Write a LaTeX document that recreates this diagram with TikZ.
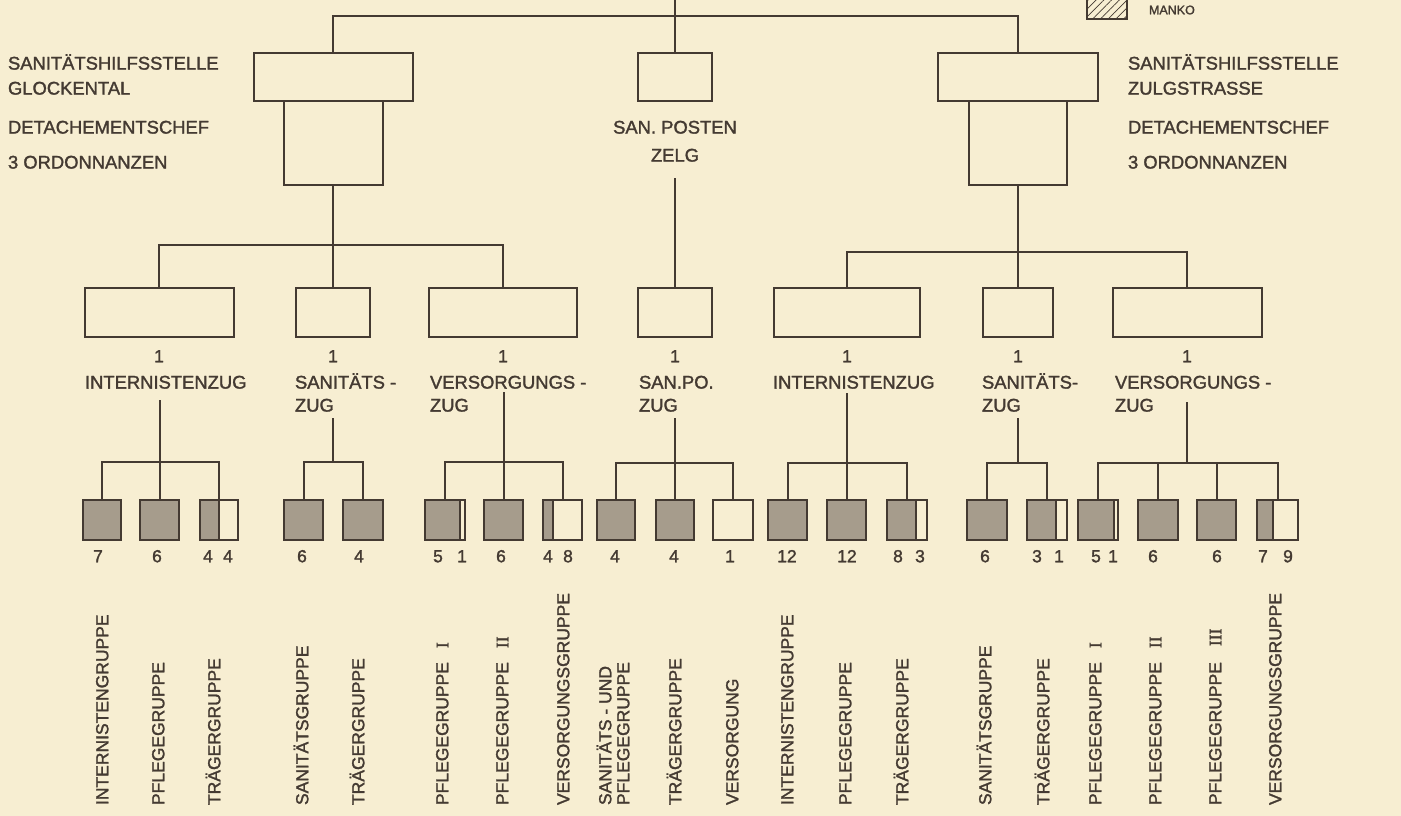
\documentclass[tikz,border=0pt]{standalone}
\usepackage{fontspec}
\setmainfont{Liberation Sans}[FakeBold=1.6]
\newfontfamily\romfont{Liberation Serif}[FakeBold=1.6]
\usetikzlibrary{patterns.meta}

\definecolor{paper}{RGB}{247,238,210}
\definecolor{ink}{RGB}{68,58,50}
\definecolor{stipple}{RGB}{166,156,140}

% outlined box given by its horizontal centre, width, top and bottom edge
\newcommand\rbox[5]{%
  \node[frame, minimum width={#3*1pt}, minimum height={(#5-#4)*1pt}]
    (#1) at (#2,{(#4+#5)/2}) {};}
% group box: stippled from the left edge to the split, white beyond it
\newcommand\gbox[4]{%
  \fill[stipple] (#2,500) rectangle (#3,540);
  \node[frame, minimum width={(#4-#2)*1pt}, minimum height=40pt]
    (#1) at ({(#2+#4)/2},520) {};
  \draw[line width=1.6pt] (#3,500) -- (#3,540);}

\begin{document}
\begin{tikzpicture}[x=1pt, y=-1pt, line width=2pt, draw=ink,
  frame/.style={draw=ink, line width=2pt, inner sep=0pt, outer sep=0pt},
  txt/.style={inner sep=0pt, text=ink, text height=13.2pt, text depth=0pt,
    font=\fontsize{18.4}{22}\selectfont},
  lbl/.style={txt, anchor=west},
  one/.style={txt, text height=12.5pt, font=\fontsize{17.5}{20}\selectfont},
  num/.style={one},
  vlbl/.style={inner sep=0pt, text=ink, text height=12.6pt, text depth=0pt,
    font=\fontsize{17.5}{20}\selectfont, rotate=90, anchor=west},
  legend/.style={inner sep=0pt, text=ink, font=\fontsize{12.5}{15}\selectfont, anchor=west}]

\fill[paper] (0,0) rectangle (1401,816);
\useasboundingbox (0,0) rectangle (1401,816);

% ---------- legend ----------
\draw[line width=1.4pt, pattern={Lines[angle=45,distance=5.5pt,line width=0.7pt]}, pattern color=ink]
  (1087,-5) rectangle (1127,19);
\node[legend] (manko) at (1148,10) {MANKO};

% ---------- top level ----------
\coordinate (top) at (675,0);
\coordinate (topbus) at (675,16);

\rbox{glU}{333}{159}{53}{101}
\rbox{glL}{333}{99}{101}{185}
\rbox{spU}{675}{74}{53}{101}
\rbox{zuU}{1018}{160}{53}{101}
\rbox{zuL}{1018}{98}{101}{185}

\draw (top) -- (topbus);
\draw (glU.north) |- (topbus) -| (zuU.north);
\draw (topbus) -- (spU.north);

\node[lbl] (glT1) at (7,63) {SANITÄTSHILFSSTELLE};
\node[lbl] (glT2) at (7,88) {GLOCKENTAL};
\node[lbl] (glT3) at (7,127) {DETACHEMENTSCHEF};
\node[lbl] (glT4) at (7,162) {3 ORDONNANZEN};

\node[lbl] (zuT1) at (1127,63) {SANITÄTSHILFSSTELLE};
\node[lbl] (zuT2) at (1127,88) {ZULGSTRASSE};
\node[lbl] (zuT3) at (1127,127) {DETACHEMENTSCHEF};
\node[lbl] (zuT4) at (1127,162) {3 ORDONNANZEN};

\node[txt] (spT1) at (675,127) {SAN. POSTEN};
\node[txt] (spT2) at (675,155) {ZELG};

% ---------- platoons ----------
\rbox{izL}{159}{149}{288}{337}
\rbox{szL}{333}{74}{288}{337}
\rbox{vzL}{503}{148}{288}{337}
\rbox{spZ}{675}{74}{288}{337}
\rbox{izR}{847}{146}{288}{337}
\rbox{szR}{1018}{70}{288}{337}
\rbox{vzR}{1187}{149}{288}{337}

\coordinate (lbus) at (glL.south |- 0,245);
\coordinate (rbus) at (zuL.south |- 0,252);
\coordinate (spS) at (spZ.north |- 0,178);
\draw (glL.south) -- (lbus);
\draw (izL.north) |- (lbus) -| (vzL.north);
\draw (lbus) -- (szL.north);
\draw (zuL.south) -- (rbus);
\draw (izR.north) |- (rbus) -| (vzR.north);
\draw (rbus) -- (szR.north);
\draw (spS) -- (spZ.north);

% platoon captions
\node[one] (izL1) at (159,356) {1};
\node[lbl] (izLa) at (84,382) {INTERNISTENZUG};
\node[one] (szL1) at (333,356) {1};
\node[lbl] (szLa) at (294,382) {SANITÄTS -};
\node[lbl] (szLb) at (294,405) {ZUG};
\node[one] (vzL1) at (503,356) {1};
\node[lbl] (vzLa) at (429,382) {VERSORGUNGS -};
\node[lbl] (vzLb) at (429,405) {ZUG};
\node[one] (spZ1) at (675,356) {1};
\node[lbl] (spZa) at (638,382) {SAN.PO.};
\node[lbl] (spZb) at (638,405) {ZUG};
\node[one] (izR1) at (847,356) {1};
\node[lbl] (izRa) at (772,382) {INTERNISTENZUG};
\node[one] (szR1) at (1018,356) {1};
\node[lbl] (szRa) at (981,382) {SANITÄTS-};
\node[lbl] (szRb) at (981,405) {ZUG};
\node[one] (vzR1) at (1187,356) {1};
\node[lbl] (vzRa) at (1114,382) {VERSORGUNGS -};
\node[lbl] (vzRb) at (1114,405) {ZUG};

% ---------- groups ----------
\gbox{a1}{83}{121}{121}
\gbox{a2}{140}{179}{179}
\gbox{a3}{200}{219}{238}
\gbox{b1}{284}{323}{323}
\gbox{b2}{343}{383}{383}
\gbox{c1}{425}{460}{465}
\gbox{c2}{484}{523}{523}
\gbox{c3}{543}{553}{582}
\gbox{d1}{597}{635}{635}
\gbox{d2}{656}{694}{694}
\gbox{d3}{713}{713}{753}
\gbox{e1}{768}{807}{807}
\gbox{e2}{827}{866}{866}
\gbox{e3}{887}{916}{927}
\gbox{f1}{967}{1007}{1007}
\gbox{f2}{1027}{1056}{1067}
\gbox{h1}{1078}{1114}{1118}
\gbox{h2}{1138}{1178}{1178}
\gbox{h3}{1197}{1236}{1236}
\gbox{h4}{1257}{1273}{1298}

% platoon to group connectors
\coordinate (aS) at (a2.north |- 0,400); \coordinate (aB) at (a2.north |- 0,462);
\coordinate (bS) at (szL.south |- 0,418); \coordinate (bB) at (szL.south |- 0,462);
\coordinate (cS) at (c2.north |- 0,392); \coordinate (cB) at (c2.north |- 0,462);
\coordinate (dS) at (d2.north |- 0,418); \coordinate (dB) at (d2.north |- 0,463);
\coordinate (eS) at (e2.north |- 0,393); \coordinate (eB) at (e2.north |- 0,463);
\coordinate (fS) at (szR.south |- 0,418); \coordinate (fB) at (szR.south |- 0,463);
\coordinate (hS) at (vzR.south |- 0,402); \coordinate (hB) at (vzR.south |- 0,463);

\draw (aS) -- (aB); \draw (a1.north) |- (aB) -| (a3.north); \draw (aB) -- (a2.north);
\draw (bS) -- (bB); \draw (b1.north) |- (bB) -| (b2.north);
\draw (cS) -- (cB); \draw (c1.north) |- (cB) -| (c3.north); \draw (cB) -- (c2.north);
\draw (dS) -- (dB); \draw (d1.north) |- (dB) -| (d3.north); \draw (dB) -- (d2.north);
\draw (eS) -- (eB); \draw (e1.north) |- (eB) -| (e3.north); \draw (eB) -- (e2.north);
\draw (fS) -- (fB); \draw (f1.north) |- (fB) -| (f2.north);
\draw (hS) -- (hB); \draw (h1.north) |- (hB) -| (h4.north);
\draw (h2.north) |- (hB); \draw (h3.north) |- (hB);

% strengths
\node[num] (na1) at (98,556) {7};
\node[num] (na2) at (157,556) {6};
\node[num] (na3) at (208,556) {4};
\node[num] (na4) at (228,556) {4};
\node[num] (nb1) at (302,556) {6};
\node[num] (nb2) at (359,556) {4};
\node[num] (nc1) at (438,556) {5};
\node[num] (nc2) at (462,556) {1};
\node[num] (nc3) at (501,556) {6};
\node[num] (nc4) at (548,556) {4};
\node[num] (nc5) at (568,556) {8};
\node[num] (nd1) at (615,556) {4};
\node[num] (nd2) at (674,556) {4};
\node[num] (nd3) at (730,556) {1};
\node[num] (ne1) at (787,556) {12};
\node[num] (ne2) at (847,556) {12};
\node[num] (ne3) at (898,556) {8};
\node[num] (ne4) at (920,556) {3};
\node[num] (nf1) at (985,556) {6};
\node[num] (nf2) at (1037,556) {3};
\node[num] (nf3) at (1059,556) {1};
\node[num] (nh1) at (1096,556) {5};
\node[num] (nh2) at (1113,556) {1};
\node[num] (nh3) at (1153,556) {6};
\node[num] (nh4) at (1217,556) {6};
\node[num] (nh5) at (1263,556) {7};
\node[num] (nh6) at (1288,556) {9};

% group names
\node[vlbl] (la1) at (102,806) {INTERNISTENGRUPPE};
\node[vlbl] (la2) at (158,806) {PFLEGEGRUPPE};
\node[vlbl] (la3) at (214,806) {TRÄGERGRUPPE};
\node[vlbl] (lb1) at (302,806) {SANITÄTSGRUPPE};
\node[vlbl] (lb2) at (358,806) {TRÄGERGRUPPE};
\node[vlbl] (lc1) at (442,806) {PFLEGEGRUPPE\hspace{14pt}{\romfont I}};
\node[vlbl] (lc2) at (502,806) {PFLEGEGRUPPE\hspace{14pt}{\romfont II}};
\node[vlbl] (lc3) at (563,806) {VERSORGUNGSGRUPPE};
\node[vlbl] (ld1) at (605,806) {SANITÄTS - UND};
\node[vlbl] (ld2) at (623,806) {PFLEGEGRUPPE};
\node[vlbl] (ld3) at (675,806) {TRÄGERGRUPPE};
\node[vlbl] (ld4) at (732,806) {VERSORGUNG};
\node[vlbl] (le1) at (787,806) {INTERNISTENGRUPPE};
\node[vlbl] (le2) at (845,806) {PFLEGEGRUPPE};
\node[vlbl] (le3) at (902,806) {TRÄGERGRUPPE};
\node[vlbl] (lf1) at (985,806) {SANITÄTSGRUPPE};
\node[vlbl] (lf2) at (1043,806) {TRÄGERGRUPPE};
\node[vlbl] (lh1) at (1095,806) {PFLEGEGRUPPE\hspace{14pt}{\romfont I}};
\node[vlbl] (lh2) at (1155,806) {PFLEGEGRUPPE\hspace{14pt}{\romfont II}};
\node[vlbl] (lh3) at (1215,806) {PFLEGEGRUPPE\hspace{16pt}{\romfont III}};
\node[vlbl] (lh4) at (1275,806) {VERSORGUNGSGRUPPE};
\end{tikzpicture}
\end{document}
